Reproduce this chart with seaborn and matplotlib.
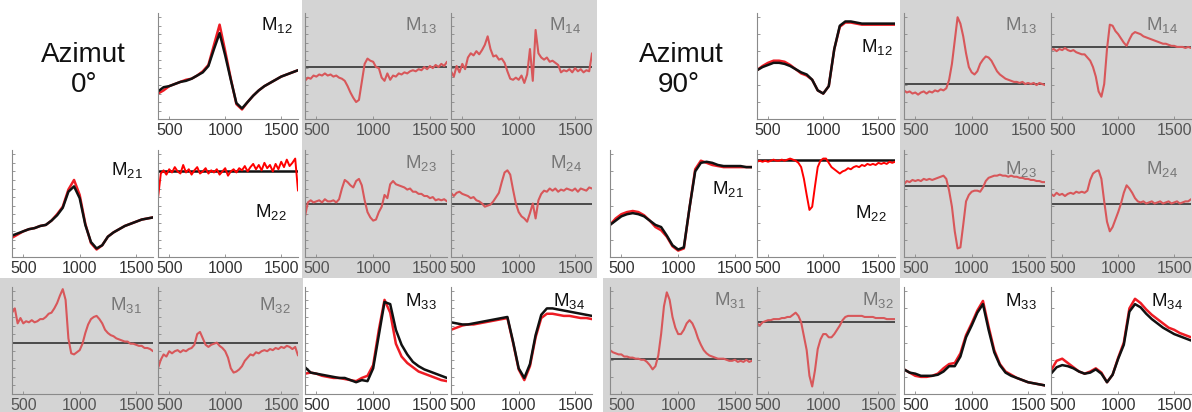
import matplotlib
matplotlib.use("Agg")
import matplotlib.pyplot as plt
import seaborn as sns
from matplotlib.patches import Rectangle
from matplotlib.ticker import MultipleLocator

# wavenumber grids (cm-1)
W50 = list(range(400, 1651, 50))
W25 = list(range(400, 1651, 25))

# ---------------- Azimut 0 ----------------
L_M12_BLACK = [26, 30, 31, 33, 35, 36, 38, 41, 44, 50, 66, 81, 60, 37, 15, 10, 16, 22, 27, 31, 34, 37, 40, 42, 44, 46]
L_M12_RED = [24, 27, 31, 33, 35, 37, 38, 41, 45, 51, 70, 89, 64, 38, 14, 9, 16, 22, 27, 31, 34, 37, 40, 42, 44, 46]
L_M13 = [36, 39, 38, 41, 40, 42, 41, 43, 41, 42, 40, 41, 39, 38, 36, 31, 25, 20, 16, 18,
         35, 52, 57, 55, 54, 49, 48, 39, 36, 43, 37, 41, 40, 43, 42, 44, 43, 45, 46, 45,
         47, 46, 49, 47, 50, 48, 51, 49, 52, 50, 54]
L_M13_ZERO = 49
L_M14 = [45, 40, 50, 44, 52, 47, 58, 62, 60, 64, 61, 65, 70, 78, 66, 59, 60, 56, 57, 53,
         45, 38, 37, 39, 37, 41, 34, 42, 66, 36, 84, 62, 58, 56, 58, 54, 55, 53, 51, 44,
         46, 45, 47, 44, 48, 45, 47, 44, 46, 45, 62]
L_M14_ZERO = 49
L_M21_BLACK = [20, 22, 24, 26, 27, 29, 30, 34, 39, 46, 61, 66, 55, 30, 14, 8, 11, 19, 23, 26, 29, 31, 33, 35, 36, 37]
L_M21_RED = [18, 21, 24, 26, 27, 29, 30, 34, 40, 47, 63, 72, 58, 31, 13, 7, 11, 19, 23, 26, 29, 31, 33, 35, 36, 37]
L_M22 = [55, 78, 81, 77, 82, 79, 84, 80, 78, 86, 79, 82, 77, 81, 84, 78, 80, 83, 78, 81,
         79, 82, 77, 80, 83, 76, 80, 82, 79, 83, 81, 85, 80, 84, 87, 82, 86, 81, 88, 83,
         86, 80, 87, 82, 89, 84, 91, 85, 88, 92, 62]
L_M22_LEVEL = 80
L_M23 = [38, 51, 53, 51, 52, 53, 51, 54, 52, 52, 53, 51, 54, 64, 72, 70, 67, 65, 71, 73,
         67, 53, 42, 37, 34, 35, 42, 47, 58, 55, 68, 71, 68, 67, 66, 65, 63, 64, 61, 61,
         59, 59, 57, 57, 55, 56, 53, 54, 53, 54, 52]
L_M23_ZERO = 50
L_M24 = [60, 57, 60, 61, 59, 58, 57, 55, 56, 53, 52, 50, 47, 48, 49, 52, 56, 60, 70, 79,
         81, 77, 63, 50, 42, 38, 36, 33, 41, 50, 36, 53, 59, 62, 61, 64, 62, 64, 61, 63,
         62, 64, 63, 62, 64, 61, 64, 63, 62, 65, 64]
L_M24_ZERO = 50
L_M31 = [76, 80, 66, 71, 66, 68, 67, 69, 67, 68, 70, 70, 72, 75, 76, 80, 85, 92, 98, 88,
         52, 38, 37, 39, 41, 47, 57, 65, 70, 72, 73, 70, 66, 60, 57, 55, 54, 52, 51, 50,
         49, 49, 47, 47, 46, 45, 45, 43, 43, 42, 40]
L_M31_ZERO = 48
L_M32 = [24, 32, 37, 35, 40, 38, 40, 41, 39, 41, 40, 42, 43, 46, 56, 58, 52, 46, 44, 46,
         47, 48, 45, 43, 40, 34, 24, 20, 21, 23, 26, 31, 34, 37, 36, 39, 38, 40, 41, 40,
         42, 41, 43, 42, 44, 43, 45, 44, 42, 44, 36]
L_M32_ZERO = 48
L_M33_BLACK = [25, 20, 19, 18, 17, 16, 15, 15, 13, 11, 13, 12, 24, 55, 86, 84, 60, 46, 37, 30, 26, 23, 21, 19, 17, 15]
L_M33_RED = [19, 20, 19, 17, 16, 15, 15, 14, 13, 12, 15, 17, 27, 60, 88, 76, 47, 35, 29, 25, 21, 19, 17, 15, 13, 12]
L_M34_BLACK = [67, 66, 65, 65, 66, 67, 68, 69, 70, 71, 72, 49, 24, 15, 28, 55, 74, 80, 80, 79, 78, 77, 76, 75, 74, 73]
L_M34_RED = [60, 62, 64, 65, 65, 66, 67, 68, 69, 70, 71, 48, 23, 13, 26, 53, 71, 75, 75, 74, 73, 73, 72, 71, 71, 70]

# ---------------- Azimut 90 ----------------
R_M12_BLACK = [46, 49, 51, 53, 53, 52, 50, 47, 44, 42, 37, 27, 24, 31, 66, 88, 92, 92, 91, 90, 90, 90, 90, 90, 90, 90]
R_M12_RED = [46, 50, 53, 55, 55, 54, 51, 47, 43, 41, 37, 27, 24, 31, 66, 87, 91, 91, 90, 89, 89, 89, 89, 89, 89, 89]
R_M13 = [27, 25, 26, 24, 25, 23, 25, 26, 24, 26, 25, 27, 26, 28, 27, 29, 37, 52, 74, 96,
         90, 78, 62, 49, 44, 42, 45, 52, 56, 59, 58, 55, 50, 45, 42, 40, 38, 37, 36, 35,
         35, 34, 35, 33, 34, 33, 34, 32, 34, 33, 32]
R_M13_ZERO = 33
R_M14 = [65, 66, 64, 66, 65, 67, 65, 64, 65, 63, 62, 61, 61, 58, 55, 49, 40, 26, 21, 33,
         66, 89, 88, 83, 80, 76, 72, 69, 75, 80, 82, 81, 80, 78, 77, 76, 75, 74, 73, 72,
         71, 71, 70, 69, 69, 68, 68, 68, 67, 68, 67]
R_M14_ZERO = 67.5
R_M21_BLACK = [30, 34, 38, 40, 41, 40, 38, 34, 30, 28, 20, 11, 7, 9, 46, 80, 88, 89, 88, 86, 85, 85, 85, 85, 84, 84]
R_M21_RED = [30, 36, 40, 42, 43, 42, 39, 34, 28, 25, 19, 10, 6, 8, 46, 82, 90, 88, 86, 85, 84, 84, 84, 84, 84, 84]
R_M22 = [89, 90, 89, 90, 89, 90, 91, 90, 90, 91, 90, 91, 92, 91, 90, 88, 84, 73, 58, 44,
         47, 66, 84, 90, 92, 92, 88, 84, 82, 80, 78, 80, 81, 83, 82, 84, 85, 84, 86, 85,
         87, 86, 87, 86, 88, 87, 88, 87, 89, 88, 89]
R_M22_LEVEL = 90.7
R_M23 = [68, 71, 70, 72, 71, 72, 71, 73, 72, 73, 72, 73, 74, 75, 76, 73, 62, 47, 24, 8,
         9, 30, 52, 58, 61, 62, 62, 61, 65, 71, 74, 75, 76, 76, 77, 76, 76, 75, 76, 75,
         75, 74, 74, 73, 73, 72, 72, 71, 71, 70, 70]
R_M23_ZERO = 66.7
R_M24 = [59, 57, 60, 58, 59, 57, 59, 60, 59, 61, 60, 61, 60, 62, 72, 78, 80, 81, 73, 52,
         33, 24, 28, 35, 42, 50, 60, 67, 64, 60, 55, 52, 51, 52, 50, 51, 52, 50, 51, 52,
         50, 51, 52, 50, 51, 52, 50, 51, 52, 52, 54]
R_M24_ZERO = 49.8
R_M31 = [41, 39, 38, 37, 37, 35, 35, 34, 34, 33, 33, 32, 32, 30, 27, 23, 26, 36, 56, 82,
         95, 88, 72, 62, 56, 56, 60, 66, 69, 66, 60, 52, 46, 41, 38, 36, 35, 34, 33, 33,
         33, 32, 31, 31, 32, 30, 31, 30, 32, 30, 31]
R_M31_ZERO = 32.8
R_M32 = [66, 64, 67, 68, 69, 69, 70, 70, 70, 71, 71, 72, 72, 74, 76, 73, 67, 54, 41, 17,
         7, 22, 42, 51, 56, 56, 53, 53, 56, 60, 64, 69, 72, 73, 73, 73, 73, 73, 73, 72,
         72, 72, 72, 71, 71, 71, 71, 70, 70, 70, 70]
R_M32_ZERO = 67.2
R_M33_BLACK = [23, 20, 19, 17, 17, 17, 18, 21, 26, 26, 35, 53, 64, 76, 84, 60, 39, 27, 20, 17, 15, 13, 11, 10, 9, 8]
R_M33_RED = [23, 20, 17, 16, 16, 17, 19, 24, 28, 29, 38, 55, 66, 78, 87, 63, 41, 28, 21, 18, 15, 13, 11, 10, 9, 8]
R_M34_BLACK = [19, 25, 27, 26, 24, 21, 19, 20, 23, 19, 11, 18, 33, 46, 77, 84, 81, 75, 70, 66, 62, 59, 56, 54, 52, 50]
R_M34_RED = [22, 31, 33, 29, 25, 21, 19, 21, 24, 20, 11, 18, 34, 48, 80, 89, 85, 79, 74, 70, 66, 62, 60, 57, 55, 53]

XTICKS = [500, 1000, 1500]

# style
GRAY_BG = '#d4d4d4'
STYLES = {
    'black': dict(color='#111111', lw=1.8),
    'red': dict(color='#ee1c24', lw=1.8),
    'data': dict(color='#d8575a', lw=1.5),
    'noisy': dict(color='#ff0000', lw=1.4),
}

FW, FH = 1192, 412
fig = plt.figure(figsize=(FW / 100, FH / 100), dpi=100)

sns.set_style("white")
plt.rcParams['font.family'] = ['Liberation Sans', 'DejaVu Sans']
plt.rcParams['mathtext.default'] = 'regular'


def px_rect(x0, x1, y0, y1):
    return [x0 / FW, 1 - y1 / FH, (x1 - x0) / FW, (y1 - y0) / FH]


# gray areas behind the off-diagonal blocks
for x0, x1, y0, y1 in [(302, 597, 0, 278), (0, 303, 278, 412),
                       (900, 1192, 0, 278), (603, 900, 278, 412)]:
    fig.patches.append(Rectangle((x0 / FW, 1 - y1 / FH), (x1 - x0) / FW, (y1 - y0) / FH,
                                 transform=fig.transFigure, facecolor=GRAY_BG,
                                 edgecolor='none', zorder=-1))

COLS = {'L': [(12, 153), (158, 298), (305, 447), (451, 592)],
        'R': [(610, 752), (757, 895), (904, 1045), (1051, 1191)]}
ROWS = [(13, 119), (150, 257), (287, 394)]

panels = [
    ('L', 0, 1, '12', [(W50, L_M12_RED, 'red'), (W50, L_M12_BLACK, 'black')], None, (0.96, 0.89)),
    ('L', 0, 2, '13', [(W25, L_M13, 'data')], L_M13_ZERO, (0.93, 0.89)),
    ('L', 0, 3, '14', [(W25, L_M14, 'data')], L_M14_ZERO, (0.92, 0.89)),
    ('L', 1, 0, '21', [(W50, L_M21_RED, 'red'), (W50, L_M21_BLACK, 'black')], None, (0.93, 0.81)),
    ('L', 1, 1, '22', [(W25, L_M22, 'noisy')], L_M22_LEVEL, (0.92, 0.42)),
    ('L', 1, 2, '23', [(W25, L_M23, 'data')], L_M23_ZERO, (0.93, 0.88)),
    ('L', 1, 3, '24', [(W25, L_M24, 'data')], L_M24_ZERO, (0.93, 0.88)),
    ('L', 2, 0, '31', [(W25, L_M31, 'data')], L_M31_ZERO, (0.92, 0.83)),
    ('L', 2, 1, '32', [(W25, L_M32, 'data')], L_M32_ZERO, (0.95, 0.83)),
    ('L', 2, 2, '33', [(W50, L_M33_RED, 'red'), (W50, L_M33_BLACK, 'black')], None, (0.93, 0.87)),
    ('L', 2, 3, '34', [(W50, L_M34_RED, 'red'), (W50, L_M34_BLACK, 'black')], None, (0.95, 0.87)),
    ('R', 0, 1, '12', [(W50, R_M12_RED, 'red'), (W50, R_M12_BLACK, 'black')], None, (0.985, 0.68)),
    ('R', 0, 2, '13', [(W25, R_M13, 'data')], R_M13_ZERO, (0.94, 0.89)),
    ('R', 0, 3, '14', [(W25, R_M14, 'data')], R_M14_ZERO, (0.905, 0.89)),
    ('R', 1, 0, '21', [(W50, R_M21_RED, 'red'), (W50, R_M21_BLACK, 'black')], None, (0.94, 0.64)),
    ('R', 1, 1, '22', [(W25, R_M22, 'noisy')], R_M22_LEVEL, (0.94, 0.41)),
    ('R', 1, 2, '23', [(W25, R_M23, 'data')], R_M23_ZERO, (0.94, 0.82)),
    ('R', 1, 3, '24', [(W25, R_M24, 'data')], R_M24_ZERO, (0.905, 0.82)),
    ('R', 2, 0, '31', [(W25, R_M31, 'data')], R_M31_ZERO, (0.96, 0.88)),
    ('R', 2, 1, '32', [(W25, R_M32, 'data')], R_M32_ZERO, (0.99, 0.88)),
    ('R', 2, 2, '33', [(W50, R_M33_RED, 'red'), (W50, R_M33_BLACK, 'black')], None, (0.94, 0.87)),
    ('R', 2, 3, '34', [(W50, R_M34_RED, 'red'), (W50, R_M34_BLACK, 'black')], None, (0.94, 0.87)),
]

for block, r, c, idx, series, level, (lx, ly) in panels:
    x0, x1 = COLS[block][c]
    y0, y1 = ROWS[r]
    ax = fig.add_axes(px_rect(x0, x1, y0, y1))
    ax.set_zorder(2)
    ax.set_facecolor('none')
    gray = (r < 2 and c >= 2) or (r == 2 and c < 2)

    if level is not None:
        line_col = '#111111' if idx == '22' else '#4a4a4a'
        ax.axhline(level, color=line_col, lw=1.8 if idx == '22' else 1.4, zorder=1)
    for xs, ys, style in series:
        sns.lineplot(x=xs, y=ys, ax=ax, **STYLES[style], zorder=2)

    ax.set_xlim(400, 1650)
    ax.set_ylim(0, 100)
    ax.set_xticks(XTICKS)
    ax.yaxis.set_major_locator(MultipleLocator(8 if block == 'L' else 16))
    ax.tick_params(axis='y', direction='in', length=2.5, width=0.6, colors='#888888',
                   labelleft=False, left=True)
    ax.tick_params(axis='x', direction='in', length=2, width=0.6, colors='#888888',
                   labelsize=11.5, labelcolor='#555555' if gray else '#333333', pad=3,
                   bottom=True)
    for side in ['top', 'right']:
        ax.spines[side].set_visible(False)
    for side in ['left', 'bottom']:
        ax.spines[side].set_color('#8a8a8a')
        ax.spines[side].set_linewidth(0.8)
    ax.set_xlabel('')
    ax.set_ylabel('')
    ax.text(lx, ly, 'M$_{' + idx + '}$', transform=ax.transAxes, ha='right', va='center',
            fontsize=13.5, color='#777777' if gray else '#111111')

# azimuth captions
for cx0, cx1, angle in [(83.5, 84.5, '0°'), (681.5, 679, '90°')]:
    fig.text(cx0 / FW, 1 - 62 / FH, 'Azimut', ha='center', va='baseline', fontsize=20, color='#111111')
    fig.text(cx1 / FW, 1 - 92 / FH, angle, ha='center', va='baseline', fontsize=20, color='#111111')

fig.savefig('out.png', dpi=100)
